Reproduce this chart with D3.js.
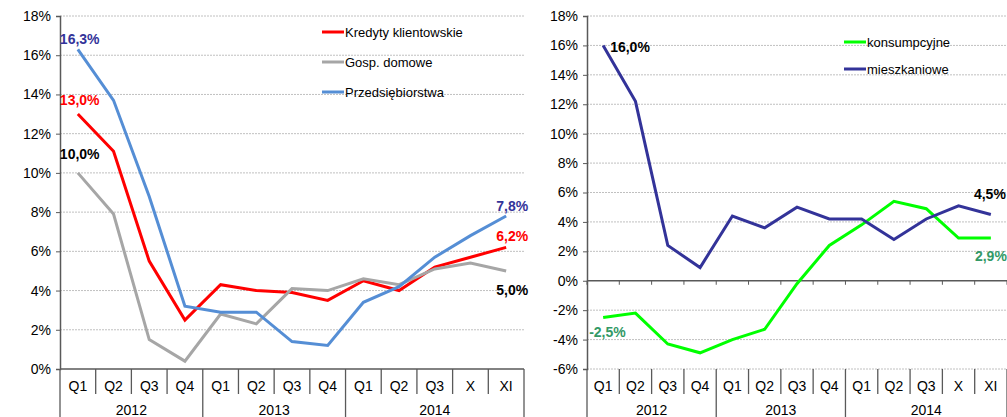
<!DOCTYPE html>
<html>
<head>
<meta charset="utf-8">
<script src="https://cdn.jsdelivr.net/npm/d3@7"></script>
<style>
  body { margin: 0; background: #fff; }
  svg { font-family: "Liberation Sans", Arial, sans-serif; }
</style>
</head>
<body>
<svg id="chart" width="1007" height="417"></svg>
<script>
// categories
var quarters = ["Q1","Q2","Q3","Q4","Q1","Q2","Q3","Q4","Q1","Q2","Q3","X","XI"];
var years = ["2012", "2013", "2014"];
var yearSpan = [4, 4, 5];

// left panel series (%)
var kredyty = [13.0, 11.1, 5.5, 2.5, 4.3, 4.0, 3.9, 3.5, 4.5, 4.0, 5.2, 5.7, 6.2];
var gosp = [10.0, 7.9, 1.5, 0.4, 2.8, 2.3, 4.1, 4.0, 4.6, 4.3, 5.1, 5.4, 5.0];
var przeds = [16.3, 13.7, 8.8, 3.2, 2.9, 2.9, 1.4, 1.2, 3.4, 4.2, 5.7, 6.8, 7.8];

// right panel series (%)
var konsump = [-2.5, -2.2, -4.3, -4.9, -4.0, -3.3, -0.2, 2.4, 3.8, 5.4, 4.9, 2.9, 2.9];
var mieszk = [16.0, 12.2, 2.4, 0.9, 4.4, 3.6, 5.0, 4.2, 4.2, 2.8, 4.2, 5.1, 4.5];

var leftTicks = [0, 2, 4, 6, 8, 10, 12, 14, 16, 18];
var rightTicks = [-6, -4, -2, 0, 2, 4, 6, 8, 10, 12, 14, 16, 18];

var svg = d3.select("#chart");

function fmt(v) { return v.toFixed(1).replace(".", ",") + "%"; }

function panel(opt) {
  var g = svg.append("g");
  var x = d3.scaleBand().domain(d3.range(quarters.length)).range([opt.x0, opt.x1]);
  var y = d3.scaleLinear().domain(opt.domain).range([opt.yBottom, opt.yTop]);

  // gridlines
  g.selectAll(".grid").data(opt.ticks.filter(function(t){ return t !== 0; }))
    .enter().append("line")
    .attr("x1", opt.x0).attr("x2", opt.x1)
    .attr("y1", function(d){ return y(d); }).attr("y2", function(d){ return y(d); })
    .attr("stroke", "#c0c0c0").attr("stroke-width", 1).attr("stroke-dasharray", "2,1");

  // y axis
  var yAxis = d3.axisLeft(y).tickValues(opt.ticks).tickSize(4).tickFormat(function(d){ return d + "%"; });
  var ya = g.append("g").attr("transform", "translate(" + opt.x0 + ",0)").call(yAxis);
  ya.select(".domain").attr("stroke", "#595959").attr("stroke-width", 1.5);
  ya.selectAll(".tick line").attr("stroke", "#595959");
  ya.selectAll("text").attr("font-size", 14).attr("fill", "#000")
    .attr("font-family", "Liberation Sans, Arial, sans-serif").attr("x", -9);

  // zero axis line
  g.append("line").attr("x1", opt.x0).attr("x2", opt.x1)
    .attr("y1", y(0)).attr("y2", y(0)).attr("stroke", "#595959").attr("stroke-width", 1.5);
  if (opt.zeroTicks) {
    g.selectAll(".zt").data(d3.range(quarters.length + 1)).enter().append("line")
      .attr("x1", function(d){ return opt.x0 + d * x.step(); })
      .attr("x2", function(d){ return opt.x0 + d * x.step(); })
      .attr("y1", y(0)).attr("y2", y(0) + 4).attr("stroke", "#595959");
  }

  // category separators
  var base = opt.yBottom;
  var yearBounds = [0];
  yearSpan.forEach(function(n, i){ yearBounds.push(yearBounds[i] + n); });
  g.selectAll(".sep").data(d3.range(quarters.length + 1)).enter().append("line")
    .attr("x1", function(d){ return opt.x0 + d * x.step(); })
    .attr("x2", function(d){ return opt.x0 + d * x.step(); })
    .attr("y1", base)
    .attr("y2", function(d){ return yearBounds.indexOf(d) >= 0 ? 417 : base + 25; })
    .attr("stroke", "#595959").attr("stroke-width", 1.3);

  g.selectAll(".ql").data(quarters).enter().append("text")
    .attr("x", function(d, i){ return x(i) + x.bandwidth() / 2; })
    .attr("y", base + 22).attr("text-anchor", "middle")
    .attr("font-size", 14).text(function(d){ return d; });

  g.selectAll(".yl").data(years).enter().append("text")
    .attr("x", function(d, i){ return opt.x0 + (yearBounds[i] + yearSpan[i] / 2) * x.step(); })
    .attr("y", base + 46).attr("text-anchor", "middle")
    .attr("font-size", 14).text(function(d){ return d; });

  // lines
  var line = d3.line()
    .x(function(d, i){ return x(i) + x.bandwidth() / 2; })
    .y(function(d){ return y(d); });
  opt.series.forEach(function(s){
    g.append("path").datum(s.values).attr("d", line)
      .attr("fill", "none").attr("stroke", s.color).attr("stroke-width", 3)
      .attr("stroke-linejoin", "miter");
  });

  // legend
  opt.series.forEach(function(s, i){
    var ly = opt.legY + i * opt.legStep;
    g.append("line").attr("x1", opt.legX).attr("x2", opt.legX + 22)
      .attr("y1", ly).attr("y2", ly).attr("stroke", s.color).attr("stroke-width", 3);
    g.append("text").attr("x", opt.legX + 23).attr("y", ly + 4.5)
      .attr("font-size", 13).text(s.name);
  });

  // data labels
  opt.labels.forEach(function(l){
    var s = opt.series[l.s];
    var v = s.values[l.i];
    g.append("text")
      .attr("x", x(l.i) + x.bandwidth() / 2 + l.dx)
      .attr("y", y(v) + l.dy)
      .attr("text-anchor", l.anchor)
      .attr("font-size", 14).attr("font-weight", "bold")
      .attr("fill", l.color).text(fmt(v));
  });
}

panel({
  x0: 60, x1: 524, yTop: 16, yBottom: 369, domain: [0, 18], ticks: leftTicks,
  legX: 322, legY: 32, legStep: 30,
  series: [
    { name: "Kredyty klientowskie", values: kredyty, color: "#ff0000" },
    { name: "Gosp. domowe", values: gosp, color: "#a6a6a6" },
    { name: "Przedsiębiorstwa", values: przeds, color: "#558ed5" }
  ],
  labels: [
    { s: 2, i: 0, dx: -18, dy: -5, anchor: "start", color: "#333399" },
    { s: 0, i: 0, dx: -18, dy: -9, anchor: "start", color: "#ff0000" },
    { s: 1, i: 0, dx: -18, dy: -14, anchor: "start", color: "#000000" },
    { s: 2, i: 12, dx: 22, dy: -5, anchor: "end", color: "#333399" },
    { s: 0, i: 12, dx: 22, dy: -6, anchor: "end", color: "#ff0000" },
    { s: 1, i: 12, dx: 22, dy: 24, anchor: "end", color: "#000000" }
  ]
});

panel({
  x0: 587, x1: 1007, yTop: 16, yBottom: 369, domain: [-6, 18], ticks: rightTicks,
  zeroTicks: true,
  legX: 844, legY: 42, legStep: 27,
  series: [
    { name: "konsumpcyjne", values: konsump, color: "#00ff00" },
    { name: "mieszkaniowe", values: mieszk, color: "#333399" }
  ],
  labels: [
    { s: 1, i: 0, dx: 7, dy: 7, anchor: "start", color: "#000000" },
    { s: 1, i: 12, dx: 15, dy: -16, anchor: "end", color: "#000000" },
    { s: 0, i: 0, dx: -14, dy: 19, anchor: "start", color: "#339966" },
    { s: 0, i: 12, dx: 16, dy: 23, anchor: "end", color: "#339966" }
  ]
});
</script>
</body>
</html>
